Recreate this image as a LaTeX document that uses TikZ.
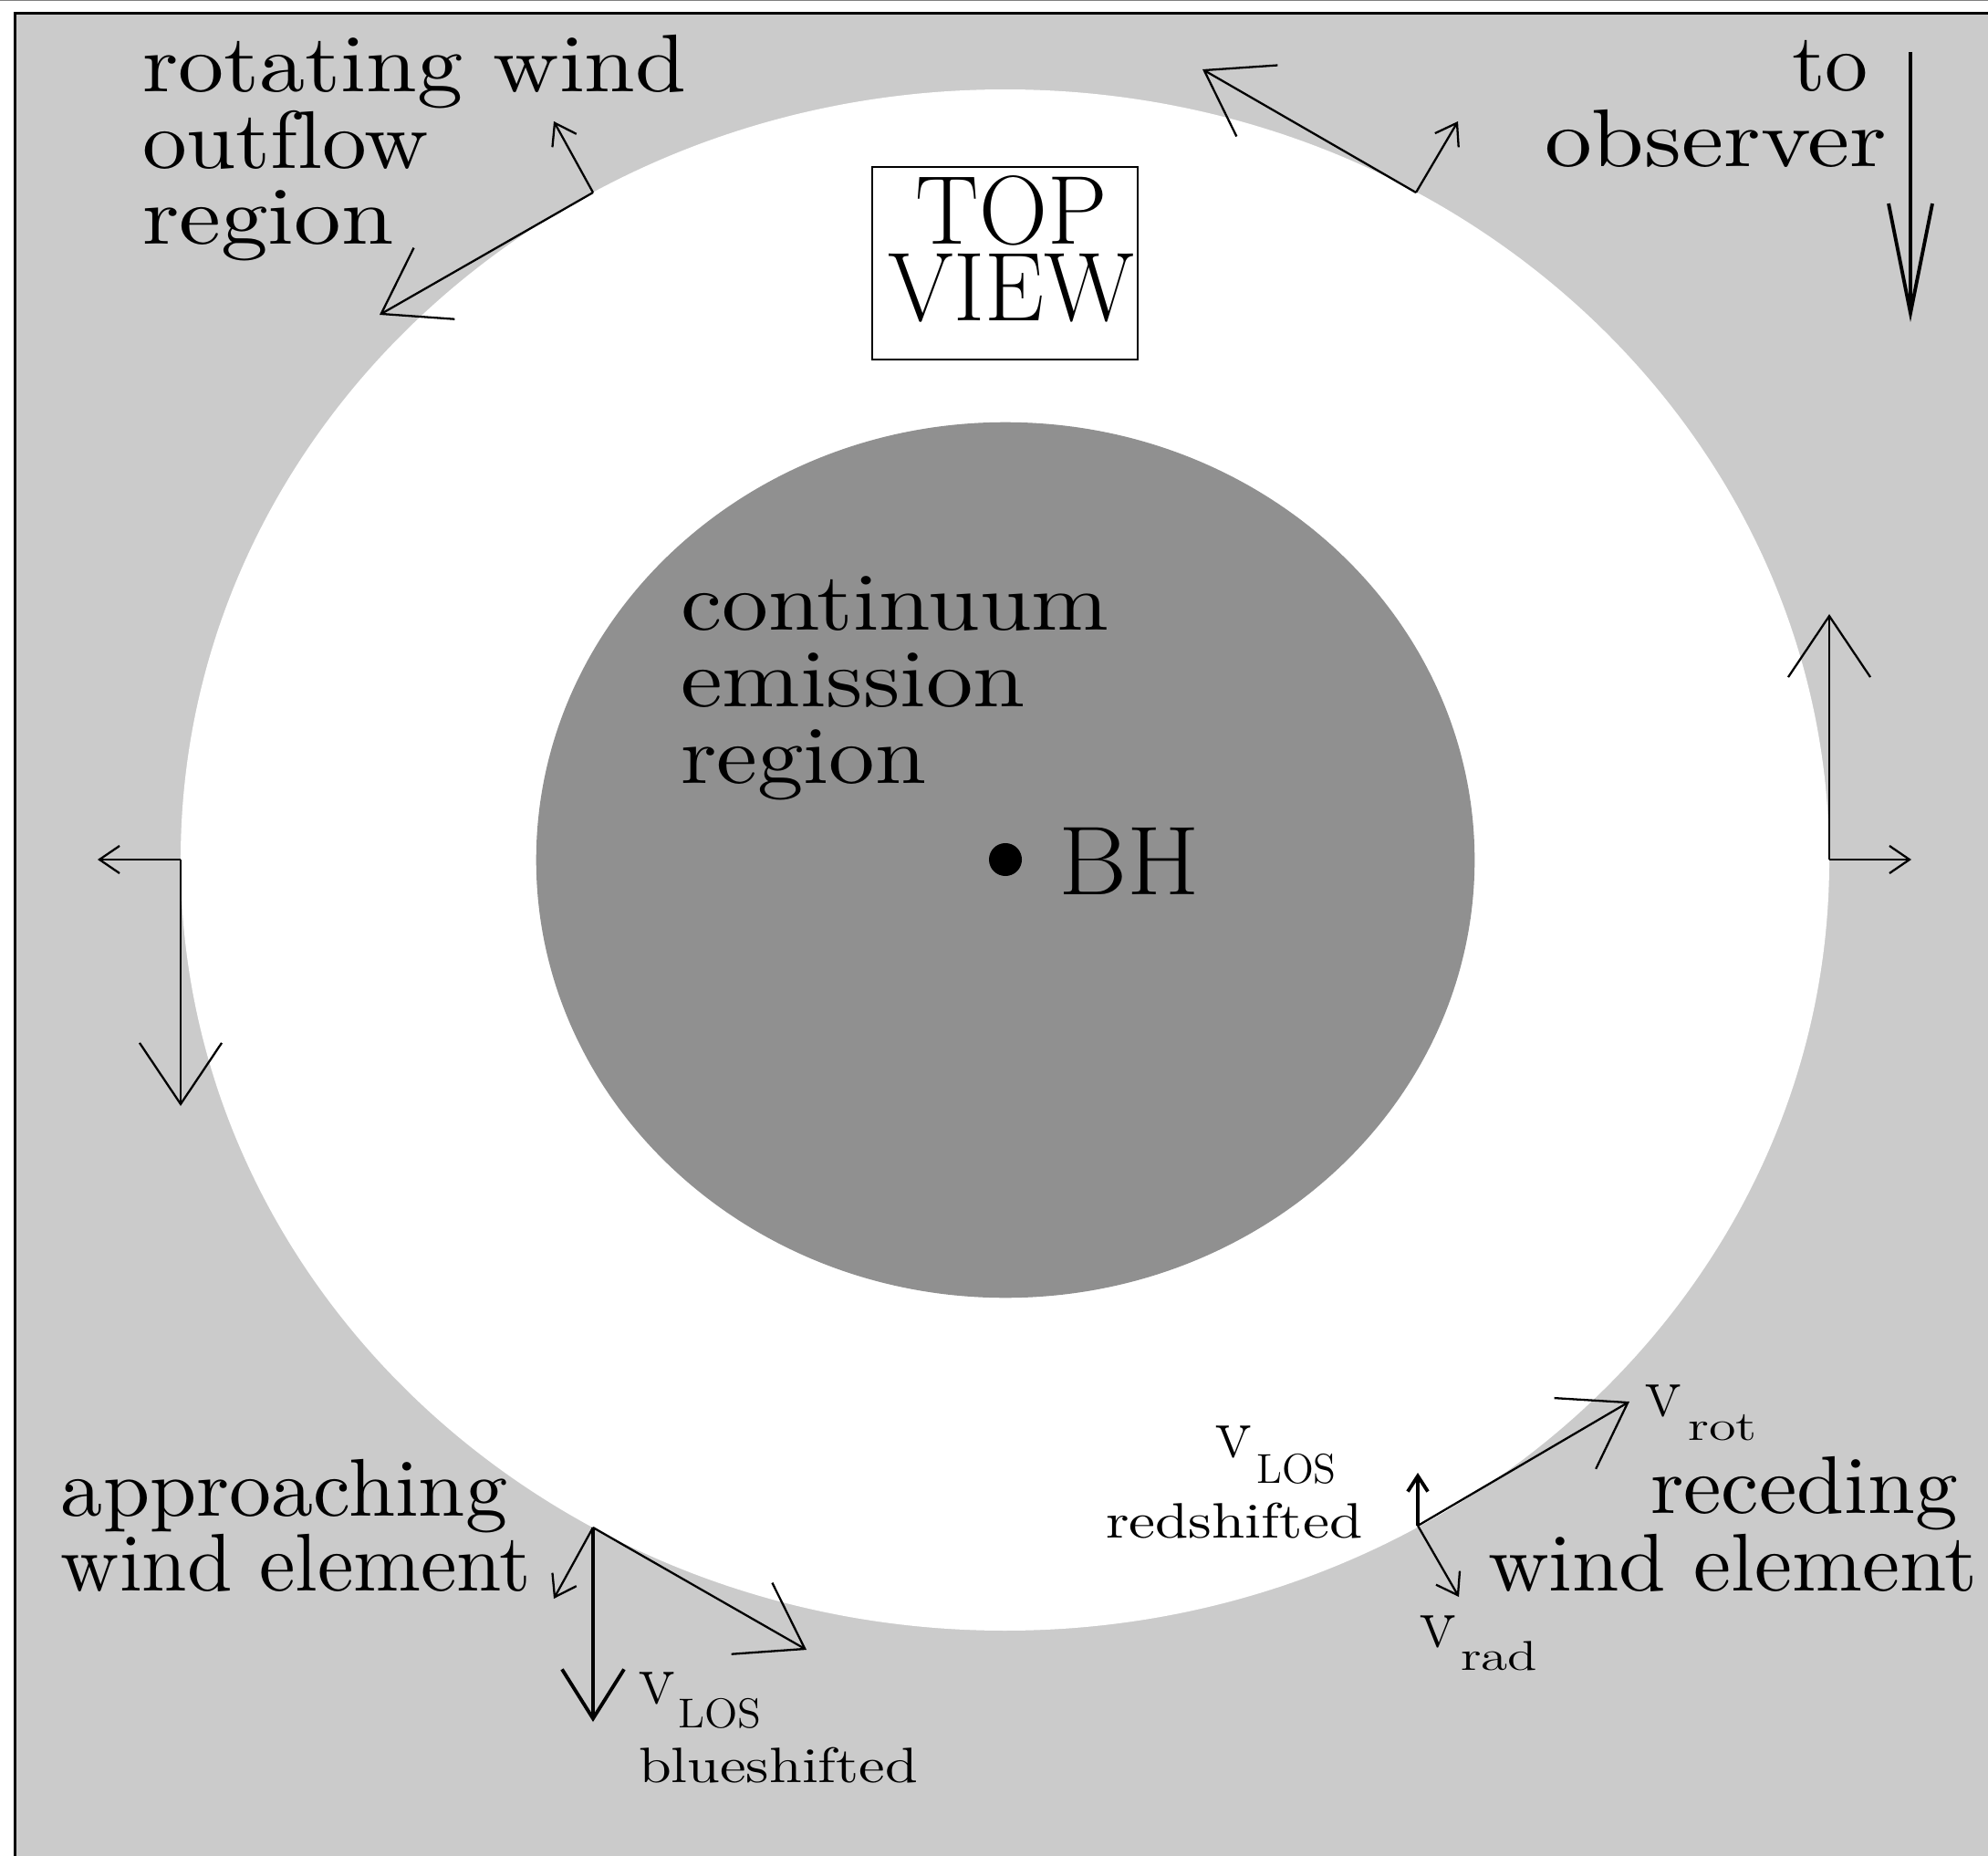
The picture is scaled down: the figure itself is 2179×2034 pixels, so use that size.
\documentclass[tikz,border=0pt]{standalone}
\usepackage{graphicx}
\usepackage{fontspec}
\newfontfamily\lmten{lmroman10-regular.otf}
\newfontfamily\lmtwelve{lmroman12-regular.otf}
\newfontfamily\lmseventeen{lmroman17-regular.otf}
\usetikzlibrary{arrows.meta}
\definecolor{bggray}{RGB}{203,203,203}
\definecolor{coregray}{RGB}{144,144,144}
\newcommand\sx[2]{\scalebox{#1}[1]{#2}}
\tikzset{
  labtxt/.style={inner sep=0pt, outer sep=0pt, font=\lmten\fontsize{25.5}{30}\selectfont},
  smalltxt/.style={inner sep=0pt, outer sep=0pt, font=\lmten\fontsize{15.5}{18}\selectfont},
  ttltxt/.style={inner sep=0pt, outer sep=0pt, font=\lmseventeen\fontsize{30.5}{23.9}\selectfont},
  vtxt/.style={inner sep=0pt, outer sep=0pt, font=\lmseventeen\fontsize{23}{27}\selectfont},
  subtxt/.style={inner sep=0pt, outer sep=0pt, font=\lmtwelve\fontsize{13}{15}\selectfont},
  rotvec/.style={line width=0.65pt, -{Straight Barb[length=0.67cm,width=0.9cm]}},
  radvec/.style={line width=0.65pt, -{Straight Barb[length=0.22cm,width=0.30cm]}},
  losbig/.style={line width=1.1pt, -{Straight Barb[length=0.54cm,width=0.68cm]}},
  lossmall/.style={line width=1.1pt, -{Straight Barb[length=0.17cm,width=0.22cm]}},
  obsvec/.style={line width=1.1pt, -{Straight Barb[length=1.2cm,width=0.48cm]}},
}
\begin{document}
\begin{tikzpicture}[x=0.01cm,y=-0.01cm]
\useasboundingbox (0,0) rectangle (2179,2034);
\fill[white] (0,0) rectangle (2179,2034);
\fill[bggray] (16.5,14.5) rectangle (2179,2034);
\draw[gray, line width=0.43pt] (0,0.75) -- (2179,0.75);
\draw[line width=0.95pt] (16.5,2034) -- (16.5,14.5) -- (2179,14.5);
% regions
\fill[white] (1101.5,942.5) ellipse [x radius=9.03cm, y radius=8.44cm];
\fill[coregray] (1102,942.5) ellipse [x radius=5.14cm, y radius=4.795cm];
% TOP VIEW box
\node[draw, line width=0.6pt, minimum width=2.91cm, minimum height=2.11cm, inner sep=0pt] (box) at (1101.5,288.5) {};
\node[ttltxt, anchor=north, align=center] (topview) at (1108.5,192.5) {\sx{0.97}{TOP}\\\sx{0.965}{VIEW}};
% labels
\node[labtxt, anchor=base west] (l1) at (156,101) {\sx{1.118}{rotating wind}};
\node[labtxt, anchor=base west] (l2) at (156,185) {\sx{1.086}{outf\kern0pt l\kern0pt ow}};
\node[labtxt, anchor=base west] (l3) at (156,268) {\sx{1.15}{region}};
\node[labtxt, anchor=base west] (o1) at (1964,100) {\sx{1.05}{to}};
\node[labtxt, anchor=base west] (o2) at (1693,183) {\sx{1.156}{observer}};
\node[labtxt, anchor=base west] (c1) at (746,691) {\sx{1.135}{continuum}};
\node[labtxt, anchor=base west] (c2) at (746,774) {\sx{1.146}{emission}};
\node[labtxt, anchor=base west] (c3) at (746,858) {\sx{1.125}{region}};
\node[labtxt, anchor=base west] (a1) at (67,1661) {\sx{1.027}{approaching}};
\node[labtxt, anchor=base west] (a2) at (67,1743) {\sx{0.99}{wind element}};
\node[labtxt, anchor=base west] (r1) at (1809,1658) {\sx{1.04}{receding}};
\node[labtxt, anchor=base west] (r2) at (1631,1743) {\sx{1.03}{wind element}};
% BH
\node[circle, fill=black, inner sep=0pt, minimum size=0.36cm] (bh) at (1102,942) {};
\node[ttltxt, anchor=base west] (bhtxt) at (1160,980) {\sx{1.07}{BH}};
% velocity labels
\node[vtxt, anchor=base west] (vb) at (700,1867) {v};
\node[subtxt, anchor=base west] (vbs) at (743,1893) {\sx{1.04}{LOS}};
\node[smalltxt, anchor=base west] (blue) at (700,1953) {\sx{1.18}{blueshifted}};
\node[vtxt, anchor=base west] (vr) at (1332,1597) {v};
\node[subtxt, anchor=base west] (vrs) at (1377,1625) {\sx{1.0}{LOS}};
\node[smalltxt, anchor=base west] (red) at (1212,1685) {\sx{1.196}{redshifted}};
\node[vtxt, anchor=base west] (vrot) at (1803,1552) {v};
\node[subtxt, anchor=base west] (vrots) at (1850,1578) {\sx{1.32}{rot}};
\node[vtxt, anchor=base west] (vrad) at (1556,1805) {v};
\node[subtxt, anchor=base west] (vrads) at (1601,1830) {\sx{1.3}{rad}};
% wind elements
\coordinate (TL) at (650,211);   \coordinate (TLr) at (416,345);  \coordinate (TLd) at (607,133);
\coordinate (TR) at (1552,211);  \coordinate (TRr) at (1318,76);  \coordinate (TRd) at (1598,133);
\coordinate (L) at (198,942);    \coordinate (Lr) at (198,1212);  \coordinate (Ld) at (107,942);
\coordinate (R) at (2005,942);   \coordinate (Rr) at (2005,673);  \coordinate (Rd) at (2095,942);
\coordinate (BL) at (650,1674);  \coordinate (BLr) at (884,1808); \coordinate (BLd) at (607,1752);
\coordinate (BLl) at (650,1887);
\coordinate (BR) at (1554,1672); \coordinate (BRr) at (1786,1536); \coordinate (BRd) at (1599,1750);
\coordinate (BRl) at (1554,1614);
\coordinate (obsA) at (2094,57); \coordinate (obsB) at (2094,353);
\draw[rotvec] (TL) -- (TLr);  \draw[radvec] (TL) -- (TLd);
\draw[rotvec] (TR) -- (TRr);  \draw[radvec] (TR) -- (TRd);
\draw[rotvec] (L) -- (Lr);    \draw[radvec] (L) -- (Ld);
\draw[rotvec] (R) -- (Rr);    \draw[radvec] (R) -- (Rd);
\draw[rotvec] (BL) -- (BLr);  \draw[radvec] (BL) -- (BLd);  \draw[losbig] (BL) -- (BLl);
\draw[rotvec] (BR) -- (BRr);  \draw[radvec] (BR) -- (BRd);  \draw[lossmall] (BR) -- (BRl);
\draw[obsvec] (obsA) -- (obsB);
\end{tikzpicture}
\end{document}
